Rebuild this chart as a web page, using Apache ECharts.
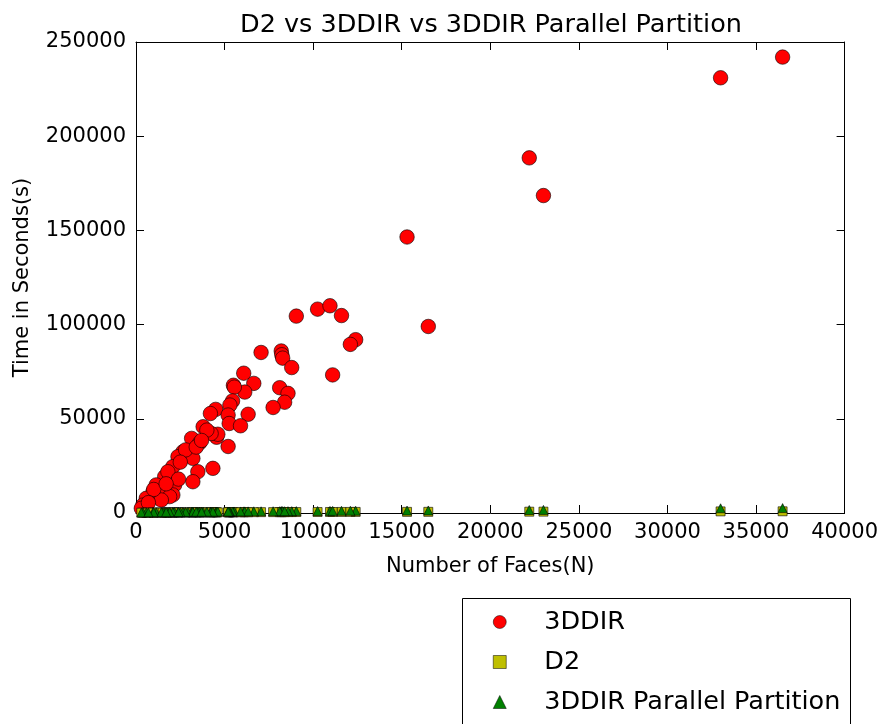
<!DOCTYPE html>
<html><head><meta charset="utf-8">
<script src="https://cdn.jsdelivr.net/npm/echarts@6/dist/echarts.min.js"></script>
<style>html,body{margin:0;padding:0;background:#fff}#c{width:881px;height:724px}</style>
</head><body><div id="c"></div>
<script>
// Number of faces (shared x values)
const faces = [36500,33000,22200,23000,15300,16500,9050,10250,10950,11600,12400,12100,11100,7060,8200,8230,8280,8790,6080,6650,6140,8110,8580,8390,7740,6330,5500,5550,5450,5300,4500,4200,5200,5260,5900,3790,4550,3140,5200,4620,4240,3590,2650,2930,3210,2370,3490,4340,3210,2080,1620,1800,2180,1140,960,1520,2080,580,390,1900,1430,2800,3400,4000,2500,1000,300,700,2400,3700,1700];
// 3DDIR times (s)
const time3DDIR = [242000,231000,188500,168500,146500,99000,104500,108200,110000,104800,92000,89500,73300,85200,86000,84000,82200,77200,74200,68800,64200,66500,63500,58800,56000,52400,67800,66800,59500,57300,55000,52800,52000,47500,46300,45800,40200,39600,35300,41800,42200,37200,32500,30800,29000,29900,21900,23700,16600,24600,19300,21900,14900,14900,11300,10400,9600,7800,4200,8700,6900,33500,35000,44000,27000,12500,2500,5500,18000,38500,15500];
// D2 times (s)
const timeD2 = [900,850,700,720,600,620,500,520,540,560,580,570,530,450,480,480,490,500,420,440,420,470,490,480,460,430,400,400,390,380,350,340,380,380,410,320,350,300,380,350,340,310,280,290,300,270,310,340,300,250,230,240,260,210,200,220,250,180,170,240,220,290,310,330,270,200,160,190,260,320,230];
// 3DDIR Parallel Partition times (s)
const timePar = [2600,2500,1600,1650,1300,1350,1000,1050,1100,1150,1200,1180,1120,900,950,950,960,980,850,880,850,940,970,960,920,860,800,810,790,780,720,700,770,780,820,660,720,620,770,730,700,650,560,590,620,540,640,700,620,500,450,470,520,400,380,440,500,330,300,480,420,580,640,690,540,400,280,350,520,660,460];

const xTicks = {min:0, max:40000, interval:5000};
const yTicks = {min:0, max:250000, interval:50000};

const FONT = 'DejaVu Sans';
const chart = echarts.init(document.getElementById('c'), null, {renderer:'canvas'});
const pairs = (ys) => faces.map((x,i)=>[x, ys[i]]);
const lineStyle = {color:'#000', width:1};
const tickIn = {show:true, inside:true, length:8, lineStyle:{color:'#000', width:1}};
const plain = v => String(v);

chart.setOption({
  backgroundColor:'#fff',
  animation:false,
  title:{text:'D2 vs 3DDIR vs 3DDIR Parallel Partition', left:235, top:7,
    textStyle:{fontFamily:FONT, fontSize:25.5, fontWeight:'normal', color:'#000'}},
  grid:{left:136, right:35, top:42, bottom:211, containLabel:false},
  graphic:[{type:'rect', shape:{x:462.5, y:598.5, width:388, height:200},
    style:{fill:'#fff', stroke:'#000', lineWidth:1}, z:-1, silent:true}],
  legend:{
    orient:'vertical', left:493, top:609, padding:0,
    itemWidth:13, itemHeight:13, itemGap:14,
    textStyle:{fontFamily:FONT, fontSize:25.5, color:'#000', padding:[0,0,0,33], lineHeight:22},
    data:[
      {name:'3DDIR', icon:'circle', itemStyle:{color:'#ff0000', borderColor:'#000', borderWidth:0.5}},
      {name:'D2', icon:'rect', itemStyle:{color:'#bfbf00', borderColor:'#000', borderWidth:0.5}},
      {name:'3DDIR Parallel Partition', icon:'triangle', itemStyle:{color:'#008000', borderColor:'#000', borderWidth:0.5}}
    ]
  },
  xAxis:[
    {type:'value', min:xTicks.min, max:xTicks.max, interval:xTicks.interval, position:'bottom',
     name:'Number of Faces(N)', nameLocation:'middle', nameGap:43,
     nameTextStyle:{fontFamily:FONT, fontSize:21, color:'#000'},
     axisLine:{show:true, onZero:false, lineStyle}, axisTick:tickIn, splitLine:{show:false},
     axisLabel:{fontFamily:FONT, fontSize:21, color:'#000', margin:9, formatter:plain}},
    {type:'value', min:xTicks.min, max:xTicks.max, interval:xTicks.interval, position:'top',
     axisLine:{show:true, onZero:false, lineStyle}, axisTick:tickIn, splitLine:{show:false}, axisLabel:{show:false}}
  ],
  yAxis:[
    {type:'value', min:yTicks.min, max:yTicks.max, interval:yTicks.interval, position:'left',
     name:'Time in Seconds(s)', nameLocation:'middle', nameGap:103,
     nameTextStyle:{fontFamily:FONT, fontSize:21, color:'#000'},
     axisLine:{show:true, onZero:false, lineStyle}, axisTick:tickIn, splitLine:{show:false},
     axisLabel:{fontFamily:FONT, fontSize:21, color:'#000', margin:10, formatter:plain}},
    {type:'value', min:yTicks.min, max:yTicks.max, interval:yTicks.interval, position:'right',
     axisLine:{show:true, onZero:false, lineStyle}, axisTick:tickIn, splitLine:{show:false}, axisLabel:{show:false}}
  ],
  series:[
    {name:'3DDIR', type:'scatter', symbol:'circle', symbolSize:14.5, data:pairs(time3DDIR),
     itemStyle:{color:'#ff0000', borderColor:'#000', borderWidth:0.6, opacity:1}},
    {name:'D2', type:'scatter', symbol:'rect', symbolSize:9, data:pairs(timeD2),
     itemStyle:{color:'#bfbf00', borderColor:'#000', borderWidth:0.6, opacity:1}},
    {name:'3DDIR Parallel Partition', type:'scatter', symbol:'triangle', symbolSize:9, data:pairs(timePar),
     itemStyle:{color:'#008000', borderColor:'#000', borderWidth:0.6, opacity:1}}
  ]
});
</script></body></html>
